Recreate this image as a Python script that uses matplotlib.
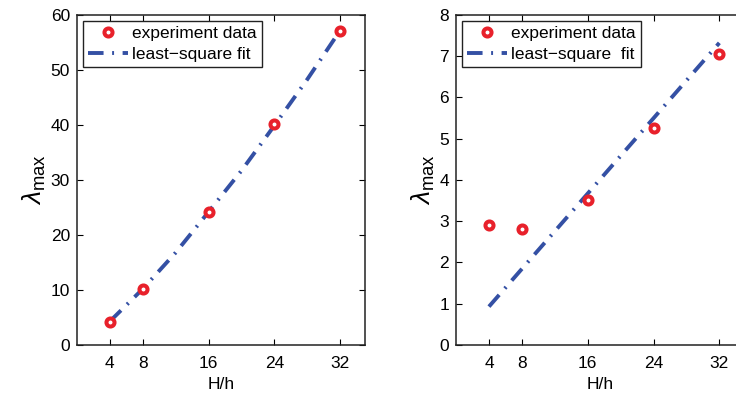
import matplotlib
matplotlib.use("Agg")
import matplotlib.pyplot as plt

plt.rcParams['font.family'] = ['Liberation Sans', 'DejaVu Sans']
plt.rcParams['mathtext.fontset'] = 'custom'
plt.rcParams['mathtext.rm'] = 'Liberation Sans'
plt.rcParams['mathtext.it'] = 'Liberation Sans:italic'

# data
ratio = [4, 8, 16, 24, 32]
xticks = [4, 8, 16, 24, 32]

left_exp = [4.2, 10.1, 24.2, 40.1, 57.1]
left_fit_x = [4, 8, 12, 16, 20, 24, 28, 32]
left_fit_y = [4.3, 10.2, 16.8, 24.2, 31.7, 39.9, 48.3, 57.2]

right_exp = [2.9, 2.82, 3.52, 5.25, 7.05]
right_fit_x = [4, 32]
right_fit_y = [0.93, 7.32]

RED = '#e8212b'
BLUE = '#3450a4'

fig = plt.figure(figsize=(7.36, 3.94), dpi=100)
ax1 = fig.add_axes([0.1046, 0.1244, 0.3913, 0.838])
ax2 = fig.add_axes([0.6196, 0.1244, 0.3913, 0.838])


def draw(ax, exp, fx, fy, ymax, fit_label, cut_right=False):
    ax.plot(fx, fy, color=BLUE, lw=2.8, dashes=(4, 2.2, 0.5, 2.2),
            label=fit_label, zorder=2)
    ax.plot(ratio, exp, 'o', ms=5.8, mfc='white', mec=RED, mew=2.9,
            label='experiment data', zorder=3)
    ax.set_xlim(0, 35)
    ax.set_ylim(0, ymax)
    ax.set_xticks(xticks)
    ax.tick_params(direction='in', top=True, right=not cut_right, length=4,
                   labelsize=12.5, width=0.8, pad=5)
    ax.tick_params(axis='x', pad=8)
    for s in ax.spines.values():
        s.set_linewidth(1.1)
        s.set_color('#222222')
    if cut_right:
        ax.spines['right'].set_visible(False)
    ax.set_xlabel('H/h', fontsize=12.5, labelpad=4)
    ax.set_ylabel(r'$\lambda_{\mathrm{max}}$', fontsize=19, labelpad=2)
    h, l = ax.get_legend_handles_labels()
    leg = ax.legend(h[::-1], l[::-1], loc='upper left', fontsize=12.5,
                    fancybox=False, edgecolor='#222222', framealpha=1,
                    borderpad=0.3, handlelength=2.3, handletextpad=0.2,
                    labelspacing=0.3, borderaxespad=0.35)
    leg.get_frame().set_linewidth(1.0)


draw(ax1, left_exp, left_fit_x, left_fit_y, 60, 'least\u2212square fit')
draw(ax2, right_exp, right_fit_x, right_fit_y, 8, 'least\u2212square  fit',
     cut_right=True)

fig.savefig('out.png', dpi=100)
